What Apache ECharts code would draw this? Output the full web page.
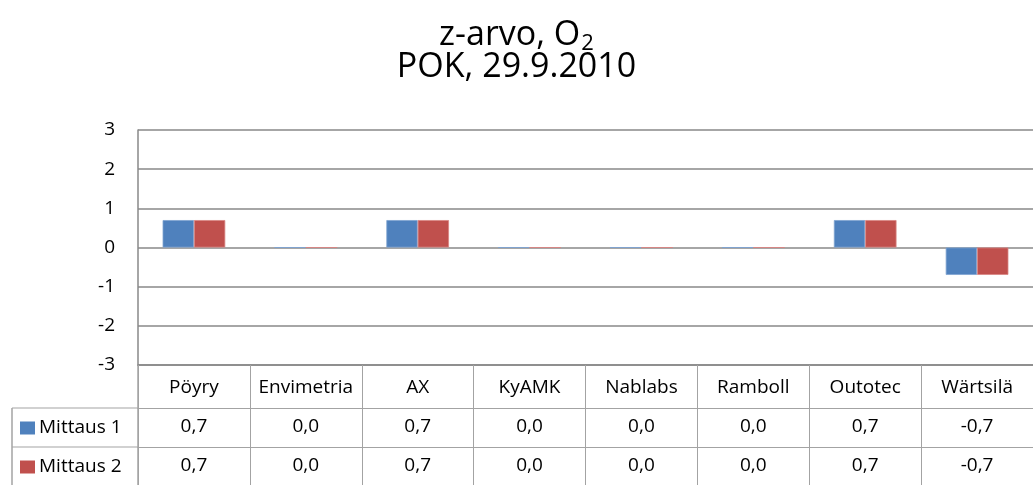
<!DOCTYPE html>
<html>
<head>
<meta charset="utf-8">
<script src="https://cdn.jsdelivr.net/npm/echarts@6/dist/echarts.min.js"></script>
<style>
  html, body { margin: 0; padding: 0; background: #fff; }
  #chart { width: 1033px; height: 485px; }
</style>
</head>
<body>
<div id="chart"></div>
<script>
// z-arvo O2, POK 29.9.2010
const categories = ['Pöyry', 'Envimetria', 'AX', 'KyAMK', 'Nablabs', 'Ramboll', 'Outotec', 'Wärtsilä']
const mittaus1 = [0.7, 0.0, 0.7, 0.0, 0.0, 0.0, 0.7, -0.7]
const mittaus2 = [0.7, 0.0, 0.7, 0.0, 0.0, 0.0, 0.7, -0.7]
const seriesNames = ['Mittaus 1', 'Mittaus 2']
const colors = ['#4F81BD', '#C0504D']

const FONT = '"Open Sans", "Noto Sans", sans-serif'
const FS = 19
const LINE = '#888888'
const TABLE_LINE = '#a3a3a3'

// 0,7 style labels for the data table
function fmt(v) {
  return v.toFixed(1).replace('.', ',')
}

const chart = echarts.init(document.getElementById('chart'))

const tableAxis = (values, offset) => ({
  type: 'category',
  position: 'bottom',
  gridIndex: 0,
  offset: offset,
  data: values.map(fmt),
  axisLine: { show: true, onZero: false, lineStyle: { color: TABLE_LINE, width: 1 } },
  axisTick: { show: false },
  axisLabel: { interval: 0, margin: 9, fontSize: FS, color: '#000', fontFamily: FONT }
})

const option = {
  backgroundColor: '#fff',
  animation: false,
  color: colors,
  title: {
    text: '{t|z-arvo, O}{s|2}\n{t|POK, 29.9.2010}',
    left: 'center',
    top: 14,
    textStyle: {
      fontFamily: FONT,
      fontWeight: 'normal',
      rich: {
        t: { fontSize: 34, lineHeight: 32, color: '#000', fontFamily: FONT, fontWeight: 'normal' },
        s: { fontSize: 22, lineHeight: 14, color: '#000', fontFamily: FONT, fontWeight: 'normal', verticalAlign: 'top', padding: [14, 0, 0, 1] }
      }
    }
  },
  legend: {
    orient: 'vertical',
    left: 20,
    top: 417,
    padding: 0,
    itemWidth: 15,
    itemHeight: 13,
    itemGap: 17,
    icon: 'rect',
    data: seriesNames,
    itemStyle: { borderWidth: 0 },
    textStyle: { fontSize: FS, lineHeight: 22, color: '#000', fontFamily: FONT, padding: [0, 0, 0, -1] },
    selectedMode: false
  },
  grid: { left: 138, top: 130, right: 0, height: 235, containLabel: false },
  xAxis: [
    {
      type: 'category',
      position: 'bottom',
      data: categories,
      axisLine: { show: true, onZero: false, lineStyle: { color: LINE, width: 1.5 } },
      axisTick: { show: true, interval: 0, length: 120, lineStyle: { color: TABLE_LINE, width: 1 } },
      axisLabel: { interval: 0, margin: 13, fontSize: FS, color: '#000', fontFamily: FONT }
    },
    tableAxis(mittaus1, 43),
    tableAxis(mittaus2, 82)
  ],
  yAxis: {
    type: 'value',
    min: -3,
    max: 3,
    interval: 1,
    axisLine: { show: true, lineStyle: { color: LINE, width: 1.5 } },
    axisTick: { show: false },
    axisLabel: { margin: 23, fontSize: FS, color: '#000', fontFamily: FONT },
    splitLine: { show: true, lineStyle: { color: LINE, width: 1.5 } }
  },
  graphic: [
    // legend column of the data table
    { type: 'line', shape: { x1: 12, y1: 408, x2: 138, y2: 408 }, style: { stroke: TABLE_LINE, lineWidth: 1 } },
    { type: 'line', shape: { x1: 12, y1: 447, x2: 138, y2: 447 }, style: { stroke: TABLE_LINE, lineWidth: 1 } },
    { type: 'line', shape: { x1: 12, y1: 408, x2: 12, y2: 485 }, style: { stroke: TABLE_LINE, lineWidth: 1.5 } },
    { type: 'line', shape: { x1: 138, y1: 365, x2: 138, y2: 485 }, style: { stroke: TABLE_LINE, lineWidth: 1.5 } }
  ],
  series: [
    {
      name: seriesNames[0],
      type: 'bar',
      data: mittaus1,
      barGap: '0%',
      barCategoryGap: '44%',
      itemStyle: { color: colors[0], borderColor: '#7fa3d1', borderWidth: 0.8 }
    },
    {
      name: seriesNames[1],
      type: 'bar',
      data: mittaus2,
      barGap: '0%',
      barCategoryGap: '44%',
      itemStyle: { color: colors[1], borderColor: '#d88583', borderWidth: 0.8 }
    }
  ]
}

chart.setOption(option)
</script>
</body>
</html>
